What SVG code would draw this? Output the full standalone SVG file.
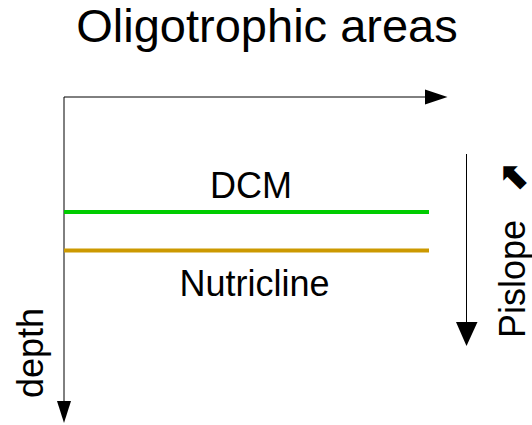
<svg xmlns="http://www.w3.org/2000/svg" width="532" height="425" viewBox="0 0 532 425">
  <style>
    text { font-family: "Liberation Sans", Arial, sans-serif; fill: #000; }
    .title { font-size: 47px; }
    .label { font-size: 36px; }
    .axis { stroke: #000; stroke-width: 1; fill: none; }
    .head { fill: #000; stroke: none; }
  </style>
  <rect width="532" height="425" fill="#fff"/>

  <g id="title">
    <text class="title" x="267" y="42" text-anchor="middle">Oligotrophic areas</text>
  </g>

  <g id="connectors">
    <!-- horizontal axis -->
    <line class="axis" x1="64" y1="97" x2="426" y2="97"/>
    <polygon class="head" points="425,89.5 447.5,97 425,104.5"/>
    <!-- depth axis -->
    <line class="axis" x1="64" y1="97" x2="64" y2="402"/>
    <polygon class="head" points="57,401 71,401 64,423"/>
    <!-- Pislope direction arrow -->
    <line class="axis" x1="466.5" y1="154" x2="466.5" y2="323"/>
    <polygon class="head" points="456,322 477.5,322 466.5,346"/>
  </g>

  <g id="dcm">
    <line x1="64" y1="212" x2="429" y2="212" stroke="#00cc00" stroke-width="4"/>
    <text class="label" x="251" y="197.5" text-anchor="middle">DCM</text>
  </g>

  <g id="nutricline">
    <line x1="64" y1="250.5" x2="429" y2="250.5" stroke="#cc9900" stroke-width="4"/>
    <text class="label" x="254.5" y="295.5" text-anchor="middle">Nutricline</text>
  </g>

  <g id="depth-label">
    <text class="label" transform="translate(43,353) rotate(-90)" text-anchor="middle">depth</text>
  </g>

  <g id="pislope-label">
    <text class="label" transform="translate(525,338) rotate(-90)">Pislope</text>
    <text transform="translate(524.5,177) rotate(-90)" text-anchor="middle" font-family="DejaVu Sans, sans-serif" font-weight="bold" font-size="36px">⬈</text>
  </g>
</svg>
